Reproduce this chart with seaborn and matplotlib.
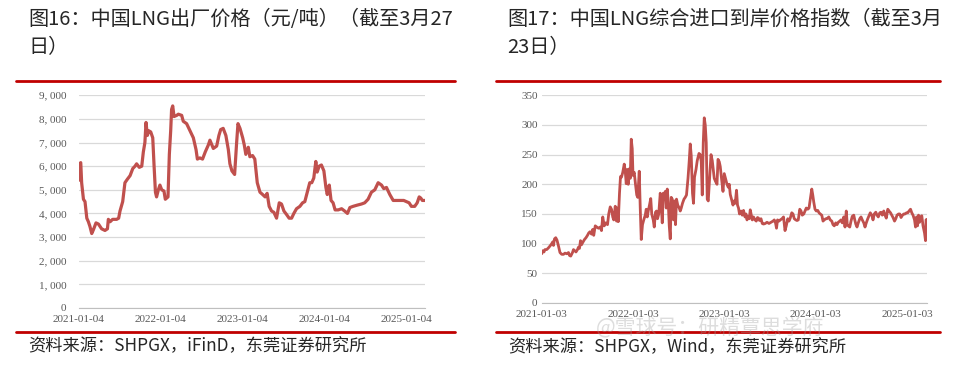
import matplotlib
matplotlib.use('Agg')
import matplotlib.pyplot as plt
from matplotlib.lines import Line2D
import pandas as pd
import seaborn as sns

# 图16 LNG factory price (yuan/ton)
factory_dates = [
    '2021-01-04', '2021-01-07', '2021-01-13', '2021-01-17', '2021-01-25', '2021-02-01',
    '2021-02-09', '2021-02-16', '2021-02-23', '2021-03-03', '2021-03-10', '2021-03-22',
    '2021-04-02', '2021-04-16', '2021-05-01', '2021-05-12', '2021-05-16', '2021-05-24',
    '2021-06-04', '2021-06-22', '2021-07-01', '2021-07-07', '2021-07-19', '2021-07-29',
    '2021-08-09', '2021-08-21', '2021-09-02', '2021-09-12', '2021-09-19', '2021-10-01',
    '2021-10-12', '2021-10-19', '2021-10-26', '2021-10-31', '2021-11-06', '2021-11-12',
    '2021-11-21', '2021-11-30', '2021-12-06', '2021-12-12', '2021-12-17', '2021-12-25',
    '2022-01-01', '2022-01-09', '2022-01-19', '2022-01-25', '2022-02-06', '2022-02-12',
    '2022-02-18', '2022-02-22', '2022-02-27', '2022-03-05', '2022-03-17', '2022-03-24',
    '2022-04-08', '2022-04-15', '2022-04-30', '2022-05-15', '2022-05-30', '2022-06-11',
    '2022-06-17', '2022-06-28', '2022-07-10', '2022-07-22', '2022-08-05', '2022-08-12',
    '2022-08-27', '2022-09-11', '2022-09-21', '2022-09-29', '2022-10-10', '2022-10-22',
    '2022-11-02', '2022-11-09', '2022-11-18', '2022-11-30', '2022-12-09', '2022-12-15',
    '2022-12-24', '2023-01-05', '2023-01-12', '2023-01-19', '2023-01-30', '2023-02-06',
    '2023-02-18', '2023-02-28', '2023-03-11', '2023-03-23', '2023-04-04', '2023-04-15',
    '2023-04-24', '2023-05-03', '2023-05-14', '2023-05-24', '2023-06-05', '2023-06-17',
    '2023-06-27', '2023-07-08', '2023-07-20', '2023-07-31', '2023-08-11', '2023-08-21',
    '2023-09-02', '2023-09-17', '2023-09-29', '2023-10-09', '2023-10-20', '2023-10-31',
    '2023-11-09', '2023-11-18', '2023-11-27', '2023-12-03', '2023-12-12', '2023-12-22',
    '2024-01-02', '2024-01-11', '2024-01-17', '2024-01-26', '2024-02-03', '2024-02-12',
    '2024-02-21', '2024-03-06', '2024-03-21', '2024-04-04', '2024-04-16', '2024-04-27',
    '2024-05-11', '2024-05-29', '2024-06-18', '2024-07-02', '2024-07-17', '2024-08-01',
    '2024-08-16', '2024-08-31', '2024-09-15', '2024-09-25', '2024-10-07', '2024-10-22',
    '2024-11-06', '2024-11-20', '2024-12-05', '2024-12-23', '2025-01-04', '2025-01-16',
    '2025-01-26', '2025-02-10', '2025-02-21', '2025-03-02', '2025-03-09', '2025-03-16',
    '2025-03-27',
]
factory_price = [
    5400, 6100, 6150, 5300, 4600, 4500,
    3800, 3650, 3450, 3150, 3300, 3600,
    3550, 3350, 3280, 3350, 3750, 3650,
    3750, 3750, 3800, 4100, 4500, 5300,
    5450, 5600, 5900, 6000, 6100, 5950,
    6000, 6600, 7000, 7850, 7300, 7500,
    7450, 7200, 6000, 4900, 4700, 5000,
    5200, 5000, 4950, 4600, 4700, 6500,
    7500, 8400, 8550, 8100, 8150, 8200,
    8150, 7900, 7800, 7500, 7200, 6700,
    6300, 6350, 6300, 6600, 6900, 7100,
    6750, 6850, 7300, 7550, 7600, 7300,
    6700, 6100, 5800, 5650, 7000, 7800,
    7600, 7200, 6900, 6500, 6800, 6400,
    6450, 6300, 5300, 4900, 4800, 4700,
    4850, 4300, 4100, 4050, 3800, 4450,
    4400, 4100, 3950, 3800, 3800, 4000,
    4200, 4300, 4450, 4500, 4900, 5300,
    5300, 5500, 6200, 5750, 6000, 6050,
    5800, 5100, 4800, 5200, 4550, 4450,
    4150, 4150, 4200, 4100, 4000, 4250,
    4300, 4350, 4400, 4450, 4600, 4900,
    5000, 5300, 5200, 5050, 5100, 4800,
    4550, 4550, 4550, 4550, 4500, 4450,
    4300, 4300, 4450, 4700, 4650, 4550,
    4550,
]

# 图17 LNG import landed price index
import_dates = [
    '2021-01-03', '2021-01-07', '2021-01-12', '2021-01-16', '2021-01-23', '2021-01-30',
    '2021-02-05', '2021-02-12', '2021-02-16', '2021-02-19', '2021-02-23', '2021-02-28',
    '2021-03-05', '2021-03-11', '2021-03-17', '2021-03-24', '2021-03-31', '2021-04-06',
    '2021-04-13', '2021-04-20', '2021-04-24', '2021-04-29', '2021-05-06', '2021-05-10',
    '2021-05-15', '2021-05-20', '2021-05-26', '2021-05-30', '2021-06-03', '2021-06-07',
    '2021-06-11', '2021-06-16', '2021-06-23', '2021-06-29', '2021-07-05', '2021-07-10',
    '2021-07-15', '2021-07-21', '2021-07-26', '2021-07-30', '2021-08-05', '2021-08-11',
    '2021-08-18', '2021-08-25', '2021-08-30', '2021-09-04', '2021-09-10', '2021-09-16',
    '2021-09-23', '2021-09-28', '2021-10-04', '2021-10-09', '2021-10-14', '2021-10-18',
    '2021-10-24', '2021-10-29', '2021-11-02', '2021-11-05', '2021-11-10', '2021-11-14',
    '2021-11-18', '2021-11-23', '2021-11-29', '2021-12-03', '2021-12-07', '2021-12-11',
    '2021-12-15', '2021-12-19', '2021-12-23', '2021-12-27', '2021-12-31', '2022-01-03',
    '2022-01-08', '2022-01-13', '2022-01-18', '2022-01-22', '2022-01-28', '2022-02-01',
    '2022-02-05', '2022-02-10', '2022-02-15', '2022-02-21', '2022-02-25', '2022-03-01',
    '2022-03-05', '2022-03-10', '2022-03-15', '2022-03-19', '2022-03-25', '2022-03-29',
    '2022-04-03', '2022-04-07', '2022-04-11', '2022-04-16', '2022-04-22', '2022-04-26',
    '2022-04-30', '2022-05-04', '2022-05-08', '2022-05-12', '2022-05-16', '2022-05-20',
    '2022-05-24', '2022-05-28', '2022-06-01', '2022-06-05', '2022-06-09', '2022-06-14',
    '2022-06-18', '2022-06-22', '2022-06-26', '2022-07-01', '2022-07-07', '2022-07-11',
    '2022-07-15', '2022-07-20', '2022-07-26', '2022-07-31', '2022-08-05', '2022-08-11',
    '2022-08-16', '2022-08-20', '2022-08-24', '2022-08-29', '2022-09-02', '2022-09-06',
    '2022-09-12', '2022-09-17', '2022-09-24', '2022-09-29', '2022-10-03', '2022-10-07',
    '2022-10-11', '2022-10-15', '2022-10-19', '2022-10-23', '2022-10-27', '2022-10-31',
    '2022-11-05', '2022-11-11', '2022-11-16', '2022-11-20', '2022-11-24', '2022-11-29',
    '2022-12-05', '2022-12-09', '2022-12-14', '2022-12-18', '2022-12-23', '2022-12-29',
    '2023-01-03', '2023-01-08', '2023-01-14', '2023-01-19', '2023-01-23', '2023-01-27',
    '2023-02-01', '2023-02-07', '2023-02-11', '2023-02-16', '2023-02-21', '2023-02-25',
    '2023-03-01', '2023-03-05', '2023-03-11', '2023-03-16', '2023-03-21', '2023-03-27',
    '2023-03-31', '2023-04-04', '2023-04-09', '2023-04-13', '2023-04-17', '2023-04-21',
    '2023-04-25', '2023-04-30', '2023-05-06', '2023-05-11', '2023-05-16', '2023-05-20',
    '2023-05-24', '2023-05-30', '2023-06-04', '2023-06-09', '2023-06-16', '2023-06-23',
    '2023-07-01', '2023-07-09', '2023-07-17', '2023-07-22', '2023-07-27', '2023-07-31',
    '2023-08-04', '2023-08-10', '2023-08-15', '2023-08-22', '2023-08-28', '2023-09-03',
    '2023-09-08', '2023-09-14', '2023-09-19', '2023-09-24', '2023-09-30', '2023-10-05',
    '2023-10-10', '2023-10-16', '2023-10-21', '2023-10-26', '2023-11-01', '2023-11-06',
    '2023-11-11', '2023-11-17', '2023-11-22', '2023-11-27', '2023-12-03', '2023-12-08',
    '2023-12-13', '2023-12-19', '2023-12-23', '2023-12-27', '2024-01-01', '2024-01-06',
    '2024-01-12', '2024-01-17', '2024-01-22', '2024-01-28', '2024-02-02', '2024-02-07',
    '2024-02-13', '2024-02-18', '2024-02-25', '2024-03-02', '2024-03-08', '2024-03-13',
    '2024-03-18', '2024-03-24', '2024-03-29', '2024-04-03', '2024-04-09', '2024-04-14',
    '2024-04-19', '2024-04-25', '2024-04-30', '2024-05-05', '2024-05-09', '2024-05-13',
    '2024-05-19', '2024-05-24', '2024-05-29', '2024-06-04', '2024-06-08', '2024-06-12',
    '2024-06-17', '2024-06-22', '2024-06-28', '2024-07-03', '2024-07-08', '2024-07-14',
    '2024-07-19', '2024-07-24', '2024-07-30', '2024-08-04', '2024-08-09', '2024-08-15',
    '2024-08-20', '2024-08-25', '2024-08-31', '2024-09-05', '2024-09-10', '2024-09-16',
    '2024-09-21', '2024-09-26', '2024-10-02', '2024-10-07', '2024-10-12', '2024-10-18',
    '2024-10-23', '2024-10-29', '2024-11-03', '2024-11-08', '2024-11-14', '2024-11-19',
    '2024-11-24', '2024-11-30', '2024-12-05', '2024-12-10', '2024-12-16', '2024-12-21',
    '2024-12-26', '2025-01-01', '2025-01-06', '2025-01-11', '2025-01-17', '2025-01-22',
    '2025-01-27', '2025-02-02', '2025-02-06', '2025-02-10', '2025-02-14', '2025-02-18',
    '2025-02-22', '2025-02-26', '2025-03-03', '2025-03-08', '2025-03-14', '2025-03-18',
    '2025-03-20', '2025-03-23',
]
import_index = [
    83, 88, 86, 90, 90, 93,
    96, 100, 103, 97, 108, 110,
    106, 96, 85, 82, 82, 84,
    83, 85, 80, 79, 85, 90,
    88, 86, 90, 94, 92, 105,
    98, 102, 107, 110, 114, 118,
    120, 116, 124, 114, 130, 128,
    126, 128, 122, 145, 130, 135,
    132, 150, 162, 158, 145, 140,
    163, 138, 160, 137, 185, 213,
    212, 220, 234, 222, 201, 225,
    200, 226, 210, 276, 260, 215,
    220, 200, 182, 178, 222, 160,
    107, 132, 140, 148, 158, 145,
    155, 165, 176, 150, 140, 128,
    153, 155, 142, 150, 185, 165,
    135, 185, 175, 188, 160, 192,
    170, 130, 108, 178, 175, 140,
    172, 132, 175, 165, 160, 155,
    160, 168, 175, 178, 182, 210,
    240, 268, 248, 185, 168, 212,
    225, 240, 252, 250, 238, 182,
    270, 312, 300, 270, 175, 172,
    208, 250, 240, 225, 210, 205,
    200, 242, 238, 230, 210, 188,
    218, 210, 200, 195, 200, 183,
    175, 165, 172, 168, 190, 165,
    160, 150, 155, 148, 156, 145,
    150, 140, 146, 142, 157, 148,
    140, 145, 140, 138, 144, 143,
    139, 142, 134, 133, 134, 136,
    134, 136, 138, 140, 135, 126,
    140, 138, 140, 142, 145, 122,
    130, 142, 138, 143, 152, 150,
    142, 140, 139, 140, 158, 155,
    148, 150, 155, 160, 158, 160,
    175, 192, 182, 170, 158, 155,
    156, 152, 150, 148, 138, 140,
    142, 142, 145, 140, 138, 132,
    130, 135, 132, 136, 138, 140,
    135, 145, 128, 155, 132, 130,
    128, 138, 146, 148, 140, 133,
    128, 135, 142, 145, 140, 135,
    128, 135, 142, 147, 152, 148,
    140, 150, 153, 148, 145, 152,
    153, 148, 155, 148, 143, 158,
    155, 152, 148, 144, 138, 142,
    148, 150, 150, 144, 148, 150,
    150, 152, 152, 155, 158, 152,
    148, 140, 128, 145, 130, 148,
    136, 145, 147, 130, 118, 105,
    140, 141,
]

factory_ticks = ['2021-01-04', '2022-01-04', '2023-01-04', '2024-01-04', '2025-01-04']
import_ticks = ['2021-01-03', '2022-01-03', '2023-01-03', '2024-01-03', '2025-01-03']
factory_yticks = [0, 1000, 2000, 3000, 4000, 5000, 6000, 7000, 8000, 9000]
import_yticks = [0, 50, 100, 150, 200, 250, 300, 350]

title_left = '图16：中国LNG出厂价格（元/吨）（截至3月27\n日）'
title_right = '图17：中国LNG综合进口到岸价格指数（截至3月\n23日）'
source_left = '资料来源：SHPGX，iFinD，东莞证券研究所'
source_right = '资料来源：SHPGX，Wind，东莞证券研究所'

sns.set_style('white')
plt.rcParams['font.family'] = ['Noto Sans CJK SC', 'DejaVu Sans']

LINE_RED = '#C0504D'
RULE_RED = '#C00000'
GRID = '#D9D9D9'
TICK_FONT = 'Liberation Serif'

fig = plt.figure(figsize=(9.66, 3.67), dpi=100)
ax1 = fig.add_axes([0.0815, 0.1608, 0.3585, 0.5796])
ax2 = fig.add_axes([0.5608, 0.1744, 0.3986, 0.5660])

df1 = pd.DataFrame({'date': pd.to_datetime(factory_dates), 'price': factory_price})
df2 = pd.DataFrame({'date': pd.to_datetime(import_dates), 'index': import_index})

sns.lineplot(data=df1, x='date', y='price', ax=ax1, color=LINE_RED, linewidth=2.3)
sns.lineplot(data=df2, x='date', y='index', ax=ax2, color=LINE_RED, linewidth=2.0)


def style_axis(ax, xticks, yticks, ylabels, end, ypad):
    ax.set_xlim(pd.Timestamp(xticks[0]), pd.Timestamp(end))
    ax.set_ylim(yticks[0], yticks[-1])
    ax.set_xticks(pd.to_datetime(xticks), xticks, fontfamily=TICK_FONT)
    ax.set_yticks(yticks, ylabels, fontfamily=TICK_FONT)
    ax.set_xlabel('')
    ax.set_ylabel('')
    for side in ['top', 'right', 'left']:
        ax.spines[side].set_visible(False)
    ax.spines['bottom'].set_color('#BFBFBF')
    ax.spines['bottom'].set_linewidth(0.8)
    ax.yaxis.grid(True, color=GRID, linewidth=0.9)
    ax.xaxis.grid(False)
    ax.set_axisbelow(True)
    ax.tick_params(axis='x', length=3, width=0.8, color='#BFBFBF',
                   labelsize=8, labelcolor='#595959', pad=2)
    ax.tick_params(axis='y', length=0, labelsize=8, labelcolor='#595959', pad=ypad)


style_axis(ax1, factory_ticks, factory_yticks,
           [f'{v:,}'.replace(',', ', ') for v in factory_yticks], '2025-03-28', 9)
style_axis(ax2, import_ticks, import_yticks,
           [str(v) for v in import_yticks], '2025-03-23', 3)

# red rules above and below each chart
for x0, x1 in [(16, 455), (496, 940)]:
    for y in [81, 332]:
        fig.add_artist(Line2D([x0 / 966, x1 / 966], [1 - y / 367] * 2,
                              transform=fig.transFigure, color=RULE_RED, linewidth=2))

fig.text(28 / 966, 1 - 9 / 367, title_left, fontsize=14.5, va='top', ha='left',
         fontweight='medium', linespacing=1.45)
fig.text(507 / 966, 1 - 9 / 367, title_right, fontsize=14.5, va='top', ha='left',
         fontweight='medium', linespacing=1.45)
fig.text(28 / 966, 1 - 346 / 367, source_left, fontsize=12.4, va='center', ha='left')
fig.text(508 / 966, 1 - 347 / 367, source_right, fontsize=12.4, va='center', ha='left')

# faint watermark across the right rule
fig.text(596 / 966, 1 - 328 / 367, '@雪球号：研精覃思学府', fontsize=15, va='center',
         ha='left', color='#9E9E9E', alpha=0.35)

fig.savefig('out.png', dpi=100)
